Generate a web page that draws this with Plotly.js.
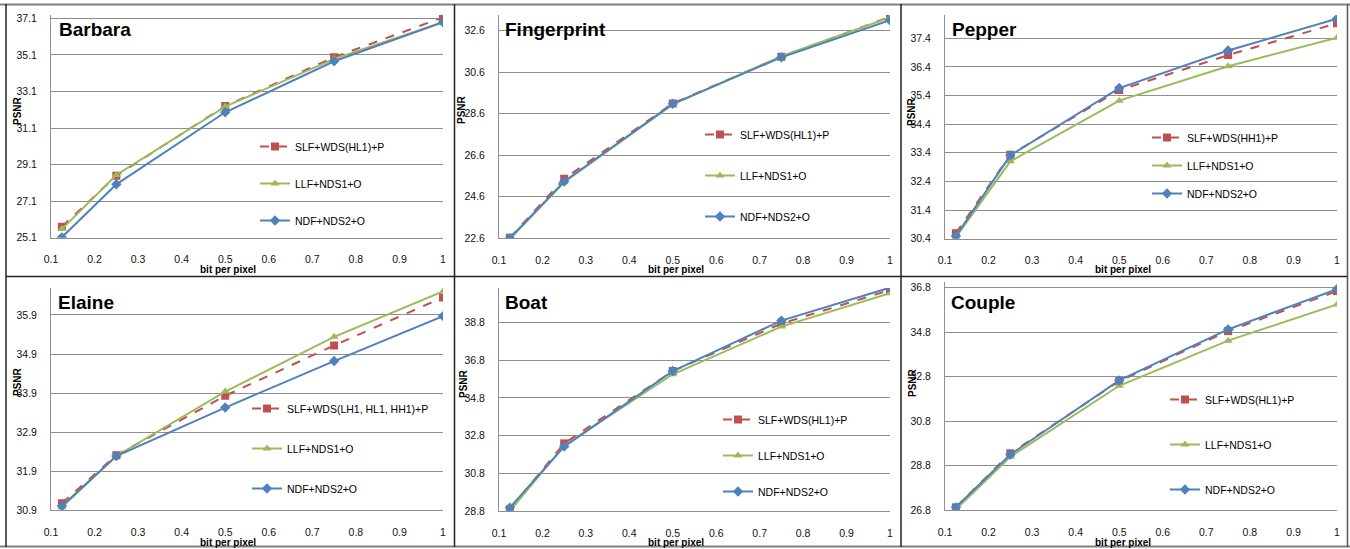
<!DOCTYPE html>
<html>
<head>
<meta charset="utf-8">
<script src="https://cdn.plot.ly/plotly-3.0.1.min.js"></script>
<style>html,body{margin:0;padding:0;background:#fff;}#chart{width:1350px;height:549px;}</style>
</head>
<body>
<div id="chart"></div>
<script>
// ---- data ----
const bpp = [0.125, 0.25, 0.5, 0.75, 1];
const xTickVals = [0.1, 0.2, 0.3, 0.4, 0.5, 0.6, 0.7, 0.8, 0.9, 1];
const panelNames = ["Barbara", "Fingerprint", "Pepper", "Elaine", "Boat", "Couple"];
const seriesSLFNames = ["SLF+WDS(HL1)+P", "SLF+WDS(HL1)+P", "SLF+WDS(HH1)+P", "SLF+WDS(LH1, HL1, HH1)+P", "SLF+WDS(HL1)+P", "SLF+WDS(HL1)+P"];
const seriesLLFName = "LLF+NDS1+O";
const seriesNDFName = "NDF+NDS2+O";

const barbaraSLF = [25.70, 28.49, 32.30, 34.97, 37.15];
const barbaraLLF = [25.57, 28.53, 32.27, 34.88, 36.88];
const barbaraNDF = [25.12, 28.02, 31.96, 34.75, 36.88];

const fingerprintSLF = [22.63, 25.47, 29.10, 31.35, 33.27];
const fingerprintLLF = [22.57, 25.30, 29.05, 31.38, 33.24];
const fingerprintNDF = [22.60, 25.34, 29.08, 31.32, 33.11];

const pepperSLF = [30.59, 33.33, 35.59, 36.81, 37.92];
const pepperLLF = [30.45, 33.10, 35.22, 36.42, 37.42];
const pepperNDF = [30.49, 33.31, 35.66, 36.97, 38.08];

const elaineSLF = [31.08, 32.31, 33.83, 35.12, 36.35];
const elaineLLF = [30.98, 32.29, 33.94, 35.34, 36.50];
const elaineNDF = [31.01, 32.29, 33.53, 34.72, 35.87];

const boatSLF = [28.89, 32.39, 36.23, 38.75, 40.53];
const boatLLF = [28.80, 32.27, 36.06, 38.59, 40.36];
const boatNDF = [28.98, 32.22, 36.23, 38.91, 40.66];

const coupleSLF = [26.92, 29.35, 32.60, 34.85, 36.65];
const coupleLLF = [26.83, 29.20, 32.39, 34.42, 36.05];
const coupleNDF = [26.92, 29.30, 32.63, 34.93, 36.74];

const yTickStart = [25.1, 22.6, 30.4, 30.9, 28.8, 26.8];
const yTickStep = [2, 2, 1, 1, 2, 2];
const yRangeTop = [37.28, 33.36, 38.21, 36.59, 40.64, 37.06];

// ---- layout geometry (pixels) ----
const W = 1350, H = 549;
const panelGeom = [
  {x0: 51, x1: 443, yb: 237.7, yt: 15, title: [57, 30], xt: [228, 269], yt2: [17, 111], leg: [255, 132], gap: 18},
  {x0: 499, x1: 890, yb: 238.3, yt: 15, title: [503, 30], xt: [676, 269], yt2: [462, 110], leg: [700, 120], gap: 22},
  {x0: 945, x1: 1337, yb: 238.7, yt: 15, title: [950, 30], xt: [1123, 269], yt2: [911, 112], leg: [1147, 123], gap: 9},
  {x0: 51, x1: 443, yb: 510.3, yt: 288, title: [56, 302], xt: [228, 542], yt2: [17, 382], leg: [247, 394], gap: 21},
  {x0: 499, x1: 890, yb: 511, yt: 288, title: [503, 302], xt: [676, 542], yt2: [463, 384], leg: [718, 405], gap: 17},
  {x0: 945, x1: 1337, yb: 510, yt: 282, title: [949, 302], xt: [1123, 542], yt2: [912, 383], leg: [1165, 385], gap: 26}
];
const seriesData = [
  [barbaraSLF, barbaraLLF, barbaraNDF],
  [fingerprintSLF, fingerprintLLF, fingerprintNDF],
  [pepperSLF, pepperLLF, pepperNDF],
  [elaineSLF, elaineLLF, elaineNDF],
  [boatSLF, boatLLF, boatNDF],
  [coupleSLF, coupleLLF, coupleNDF]
];

const RED = "#C0504D", GREEN = "#9BBB59", BLUE = "#4F81BD";
const GRID = "#8f8f8f";
const FONT = "Liberation Sans, Arial, sans-serif";

const px = v => v / W;
const py = v => 1 - v / H;

const traces = [];
const layout = {
  width: W, height: H,
  margin: {l: 0, r: 0, t: 0, b: 0},
  paper_bgcolor: "#fff", plot_bgcolor: "#fff",
  showlegend: true,
  font: {family: FONT, size: 10, color: "#000"},
  annotations: [], shapes: []
};

panelGeom.forEach((g, i) => {
  const n = i === 0 ? "" : String(i + 1);
  const xa = "x" + n, ya = "y" + n;
  const legName = i === 0 ? "legend" : "legend" + (i + 1);
  const yRange = [yTickStart[i], yRangeTop[i]];
  layout["xaxis" + n] = {
    domain: [px(g.x0), px(g.x1)], anchor: ya,
    range: [0.1, 1], tickvals: xTickVals, ticktext: xTickVals.map(v => String(v)),
    showgrid: false, zeroline: false, showline: true, linecolor: GRID, linewidth: 1,
    ticks: "", ticklabelstandoff: 12,
    tickfont: {family: FONT, size: 10.5, color: "#111"}, fixedrange: true
  };
  const ticks = [];
  for (let k = 0; yTickStart[i] + k * yTickStep[i] <= yRangeTop[i] + 1e-9; k++) ticks.push(+(yTickStart[i] + k * yTickStep[i]).toFixed(1));
  layout["yaxis" + n] = {
    domain: [py(g.yb), py(g.yt)], anchor: xa,
    range: yRange, tickvals: ticks, ticktext: ticks.map(v => v.toFixed(1)),
    showgrid: true, gridcolor: GRID, gridwidth: 1, zeroline: false,
    showline: true, linecolor: GRID, linewidth: 1, ticks: "", ticklabelstandoff: 11,
    tickfont: {family: FONT, size: 10.5, color: "#111"}, fixedrange: true
  };
  const names = [seriesSLFNames[i], seriesLLFName, seriesNDFName];
  const styles = [
    {color: RED, dash: "dash", symbol: "square", size: 8},
    {color: GREEN, dash: "solid", symbol: "triangle-up", size: 8},
    {color: BLUE, dash: "solid", symbol: "diamond", size: 8}
  ];
  seriesData[i].forEach((ys, s) => {
    traces.push({
      type: "scatter", mode: "lines+markers",
      x: bpp, y: ys, xaxis: xa, yaxis: ya,
      name: names[s], legend: legName, legendgroup: "p" + i + "s" + s,
      line: {color: styles[s].color, width: 2, dash: styles[s].dash},
      marker: {color: styles[s].color, symbol: styles[s].symbol, size: styles[s].size},
      hoverinfo: "skip"
    });
  });
  layout[legName] = {
    x: px(g.leg[0]), y: py(g.leg[1]), xanchor: "left", yanchor: "top",
    bgcolor: "rgba(0,0,0,0)", borderwidth: 0,
    font: {family: FONT, size: 10.5, color: "#000"},
    traceorder: "grouped", tracegroupgap: g.gap, itemwidth: 30
  };
  layout.annotations.push({
    text: "<b>" + panelNames[i] + "</b>", xref: "paper", yref: "paper",
    x: px(g.title[0]), y: py(g.title[1]), xanchor: "left", yanchor: "middle",
    showarrow: false, font: {family: FONT, size: 19, color: "#000"}
  });
  layout.annotations.push({
    text: "<b>bit per pixel</b>", xref: "paper", yref: "paper",
    x: px(g.xt[0]), y: py(g.xt[1]), xanchor: "center", yanchor: "middle",
    showarrow: false, font: {family: FONT, size: 10, color: "#000"}
  });
  layout.annotations.push({
    text: "<b>PSNR</b>", xref: "paper", yref: "paper", textangle: -90,
    x: px(g.yt2[0]), y: py(g.yt2[1]), xanchor: "center", yanchor: "middle",
    showarrow: false, font: {family: FONT, size: 10, color: "#000"}
  });
});

// panel frame lines
const frameLines = [
  {x0: 0, x1: 1350, y0: 4.5, y1: 4.5, c: "#7f7f7f", w: 2},
  {x0: 0, x1: 1350, y0: 546.5, y1: 546.5, c: "#7f7f7f", w: 2},
  {x0: 6, x1: 6, y0: 4, y1: 547, c: "#222", w: 1.5},
  {x0: 1347.5, x1: 1347.5, y0: 4, y1: 547, c: "#555", w: 1.5},
  {x0: 454.5, x1: 454.5, y0: 4, y1: 547, c: "#222", w: 1.5},
  {x0: 901, x1: 901, y0: 4, y1: 547, c: "#222", w: 1.5},
  {x0: 6, x1: 1347, y0: 276.5, y1: 276.5, c: "#222", w: 1.5}
];
frameLines.forEach(f => layout.shapes.push({
  type: "line", xref: "paper", yref: "paper",
  x0: px(f.x0), x1: px(f.x1), y0: py(f.y0), y1: py(f.y1),
  line: {color: f.c, width: f.w}
}));

Plotly.newPlot("chart", traces, layout, {staticPlot: true, displayModeBar: false});
</script>
</body>
</html>
